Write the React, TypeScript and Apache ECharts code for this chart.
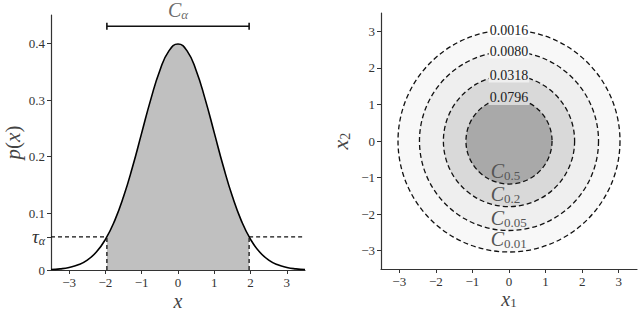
import React, { useEffect, useRef } from 'react';
import * as echarts from 'echarts';

// ---- Left panel data: standard normal pdf ----
const pdfX = [-3.5, -3.25, -3, -2.75, -2.5, -2.25, -2, -1.75, -1.5, -1.25, -1, -0.75, -0.5, -0.25, 0,
  0.25, 0.5, 0.75, 1, 1.25, 1.5, 1.75, 2, 2.25, 2.5, 2.75, 3, 3.25, 3.5];
const pdfY = [0.0009, 0.002, 0.0044, 0.0091, 0.0175, 0.0317, 0.054, 0.0863, 0.1295, 0.1826, 0.242, 0.3011, 0.3521, 0.3867, 0.3989,
  0.3867, 0.3521, 0.3011, 0.242, 0.1826, 0.1295, 0.0863, 0.054, 0.0317, 0.0175, 0.0091, 0.0044, 0.002, 0.0009];
const fillX = [-1.96, -1.75, -1.5, -1.25, -1, -0.75, -0.5, -0.25, 0, 0.25, 0.5, 0.75, 1, 1.25, 1.5, 1.75, 1.96];
const fillY = [0.0584, 0.0863, 0.1295, 0.1826, 0.242, 0.3011, 0.3521, 0.3867, 0.3989, 0.3867, 0.3521, 0.3011, 0.242, 0.1826, 0.1295, 0.0863, 0.0584];
const tau = 0.0584;
const xLo = -3.5;
const xHi = 3.5;
const zLeft = -1.96;
const zRight = 1.96;
const bracketY = 0.43;
const massLabelY = 0.15;
const xTicks = [-3, -2, -1, 0, 1, 2, 3];
const yTicksLeft = [0, tau, 0.1, 0.2, 0.3, 0.4];

// ---- Right panel data: contours of a 2D standard normal ----
const center = [0, 0];
const contourRadii = [3.035, 2.448, 1.794, 1.177];
const contourLevels = ['0.0016', '0.0080', '0.0318', '0.0796'];
const contourAlphas = ['0.01', '0.05', '0.2', '0.5'];
const ringFills = ['#f8f8f8', '#efefef', '#d9d9d9', '#a9a9a9'];
const outerFills = ['#ffffff', '#f8f8f8', '#efefef', '#d9d9d9'];
const gridTicks = [-3, -2, -1, 0, 1, 2, 3];

const SERIF = 'Liberation Serif';
const AXIS_COLOR = '#333';
const LABEL_COLOR = '#333';
const NAME_COLOR = '#444';

const fmtNum = (v: number) => '{n|' + (v < 0 ? '\u2212' + Math.abs(v) : String(v)) + '}';

function axisCommon(customValues: number[], formatter: (v: number) => string) {
  return {
    nameMoveOverlap: false,
    axisLine: { show: true, onZero: false, lineStyle: { color: AXIS_COLOR, width: 1.2 } },
    axisTick: { show: true, length: 4, customValues, lineStyle: { color: AXIS_COLOR, width: 1 } },
    axisLabel: {
      customValues,
      formatter,
      color: LABEL_COLOR,
      fontFamily: SERIF,
      fontSize: 13,
      margin: 6,
      rich: {
        n: { fontFamily: SERIF, fontSize: 13, color: LABEL_COLOR },
        t: { fontFamily: SERIF, fontStyle: 'italic', fontSize: 19, color: LABEL_COLOR },
        s: { fontFamily: SERIF, fontStyle: 'italic', fontSize: 12, color: LABEL_COLOR, padding: [9, 0, 0, 0] },
      },
    },
    splitLine: { show: false },
  };
}

export default function App() {
  const ref = useRef<HTMLDivElement>(null);
  useEffect(() => {
    if (!ref.current) return;
    const chart = echarts.init(ref.current, undefined, { renderer: 'svg' });
    const zip = (xs: number[], ys: number[]) => xs.map((x, i) => [x, ys[i]]);
    const dashed = { color: '#111', width: 1.3, type: [4, 3] };

    const option: any = {
      animation: false,
      backgroundColor: '#ffffff',
      grid: [
        { left: 51, top: 15, width: 254, height: 255, outerBoundsMode: 'none' },
        { left: 381, top: 13, width: 256, height: 256, outerBoundsMode: 'none' },
      ],
      xAxis: [
        {
          type: 'value', gridIndex: 0, min: xLo, max: xHi,
          ...axisCommon(xTicks, fmtNum),
          name: '{i|x}', nameLocation: 'middle', nameGap: 24,
          nameTextStyle: { rich: { i: { fontFamily: SERIF, fontStyle: 'italic', fontSize: 20, lineHeight: 13, color: NAME_COLOR } } },
        },
        {
          type: 'value', gridIndex: 1, min: xLo, max: xHi,
          ...axisCommon(gridTicks, fmtNum),
          name: '{i|x}{s|1}', nameLocation: 'middle', nameGap: 23,
          nameTextStyle: {
            rich: {
              i: { fontFamily: SERIF, fontStyle: 'italic', fontSize: 20, lineHeight: 13, color: NAME_COLOR },
              s: { fontFamily: SERIF, fontSize: 13, lineHeight: 9, color: NAME_COLOR, padding: [8, 0, 0, 0] },
            },
          },
        },
      ],
      yAxis: [
        {
          type: 'value', gridIndex: 0, min: 0, max: 0.45,
          ...axisCommon(yTicksLeft, (v: number) =>
            Math.abs(v - tau) < 1e-6 ? '{t|\u03c4}{s|\u03b1}' : v === 0 ? '{n|0}' : '{n|' + v.toFixed(1) + '}'),
          name: '{i|p}{n|(}{i|x}{n|)}', nameLocation: 'middle', nameGap: 28, nameRotate: 90,
          nameTextStyle: {
            rich: {
              i: { fontFamily: SERIF, fontStyle: 'italic', fontSize: 21, color: NAME_COLOR },
              n: { fontFamily: SERIF, fontSize: 21, color: NAME_COLOR },
            },
          },
        },
        {
          type: 'value', gridIndex: 1, min: xLo, max: xHi,
          ...axisCommon(gridTicks, fmtNum),
          name: '{i|x}{s|2}', nameLocation: 'middle', nameGap: 29, nameRotate: 90,
          nameTextStyle: {
            rich: {
              i: { fontFamily: SERIF, fontStyle: 'italic', fontSize: 22, color: NAME_COLOR },
              s: { fontFamily: SERIF, fontSize: 14, color: NAME_COLOR, padding: [10, 0, 0, 0] },
            },
          },
        },
      ],
      series: [
        // tau horizontal dashed lines (outside the shaded area)
        {
          type: 'line', xAxisIndex: 0, yAxisIndex: 0, symbol: 'none', silent: true,
          data: [[xLo, tau], [zLeft, tau]], lineStyle: dashed,
        },
        {
          type: 'line', xAxisIndex: 0, yAxisIndex: 0, symbol: 'none', silent: true,
          data: [[zRight, tau], [xHi, tau]], lineStyle: dashed,
        },
        // shaded 1-alpha region
        {
          type: 'line', xAxisIndex: 0, yAxisIndex: 0, symbol: 'none', smooth: 0.5, silent: true,
          data: zip(fillX, fillY),
          lineStyle: { width: 0, opacity: 0 },
          areaStyle: { color: '#c0c0c0', opacity: 1, origin: 0 },
        },
        // pdf curve
        {
          type: 'line', xAxisIndex: 0, yAxisIndex: 0, symbol: 'none', smooth: 0.5, silent: true,
          data: zip(pdfX, pdfY),
          lineStyle: { color: '#000', width: 1.6 },
        },
        // vertical dashed lines
        {
          type: 'line', xAxisIndex: 0, yAxisIndex: 0, symbol: 'none', silent: true,
          data: [[zLeft, 0], [zLeft, tau]], lineStyle: dashed,
        },
        {
          type: 'line', xAxisIndex: 0, yAxisIndex: 0, symbol: 'none', silent: true,
          data: [[zRight, 0], [zRight, tau]], lineStyle: dashed,
        },
        // C_alpha bracket
        {
          type: 'line', xAxisIndex: 0, yAxisIndex: 0, symbol: 'rect', symbolSize: [1.6, 7], showSymbol: true, silent: true,
          data: [[zLeft, bracketY], [zRight, bracketY]],
          itemStyle: { color: '#111' },
          lineStyle: { color: '#111', width: 1.5 },
        },
        {
          type: 'scatter', xAxisIndex: 0, yAxisIndex: 0, symbolSize: 0, silent: true,
          data: [[0, bracketY]],
          label: {
            show: true, position: 'top', distance: 5,
            formatter: '{c|C}{s|\u03b1}',
            rich: {
              c: { fontFamily: SERIF, fontStyle: 'italic', fontSize: 20, color: NAME_COLOR },
              s: { fontFamily: SERIF, fontStyle: 'italic', fontSize: 13, color: NAME_COLOR, padding: [10, 0, 0, 0] },
            },
          },
        },
        {
          type: 'scatter', xAxisIndex: 0, yAxisIndex: 0, symbolSize: 0, silent: true,
          data: [[0, massLabelY]],
          label: {
            show: true, position: 'inside',
            formatter: '{n|1 \u2212 }{i|\u03b1}',
            rich: {
              n: { fontFamily: SERIF, fontSize: 23, color: '#555' },
              i: { fontFamily: SERIF, fontStyle: 'italic', fontSize: 23, color: '#555' },
            },
          },
        },
        // contour disks
        {
          type: 'custom', xAxisIndex: 1, yAxisIndex: 1, silent: true,
          data: contourRadii.map((r) => [center[0], center[1], r]),
          encode: { x: 0, y: 1 },
          renderItem: (params: any, api: any) => {
            const i = params.dataIndex;
            const c = api.coord([api.value(0), api.value(1)]);
            const rp = api.size([api.value(2), 0])[0];
            return {
              type: 'circle',
              shape: { cx: c[0], cy: c[1], r: rp },
              style: { fill: ringFills[i], stroke: '#111', lineWidth: 1.3, lineDash: [5, 3] },
            };
          },
          z: 2,
        },
        // contour labels
        {
          type: 'custom', xAxisIndex: 1, yAxisIndex: 1, silent: true,
          data: contourRadii.map((r) => [center[0], center[1], r]),
          encode: { x: 0, y: 1 },
          renderItem: (params: any, api: any) => {
            const i = params.dataIndex;
            const cx = api.value(0);
            const cy = api.value(1);
            const r = api.value(2);
            const top = api.coord([cx, cy + r]);
            const bot = api.coord([cx - 0.5, cy - r]);
            return {
              type: 'group',
              children: [
                {
                  type: 'text', x: top[0], y: top[1],
                  style: {
                    text: contourLevels[i], fill: '#222', font: `14px ${SERIF}`,
                    align: 'center', verticalAlign: 'middle',
                    backgroundColor: outerFills[i], padding: [0, 1],
                  },
                },
                {
                  type: 'text', x: bot[0], y: bot[1] - 2,
                  style: {
                    text: `{c|C}{s|${contourAlphas[i]}}`,
                    align: 'left', verticalAlign: 'bottom',
                    rich: {
                      c: { fontFamily: SERIF, fontStyle: 'italic', fontSize: 20, fill: '#555' },
                      s: { fontFamily: SERIF, fontSize: 13, fill: '#555', padding: [9, 0, 0, 0] },
                    },
                  },
                },
              ],
            };
          },
          z: 3,
        },
      ],
    };
    chart.setOption(option);
    return () => chart.dispose();
  }, []);
  return <div ref={ref} style={{ position: 'fixed', left: 0, top: 0, width: 640, height: 311, background: '#fff' }} />;
}
